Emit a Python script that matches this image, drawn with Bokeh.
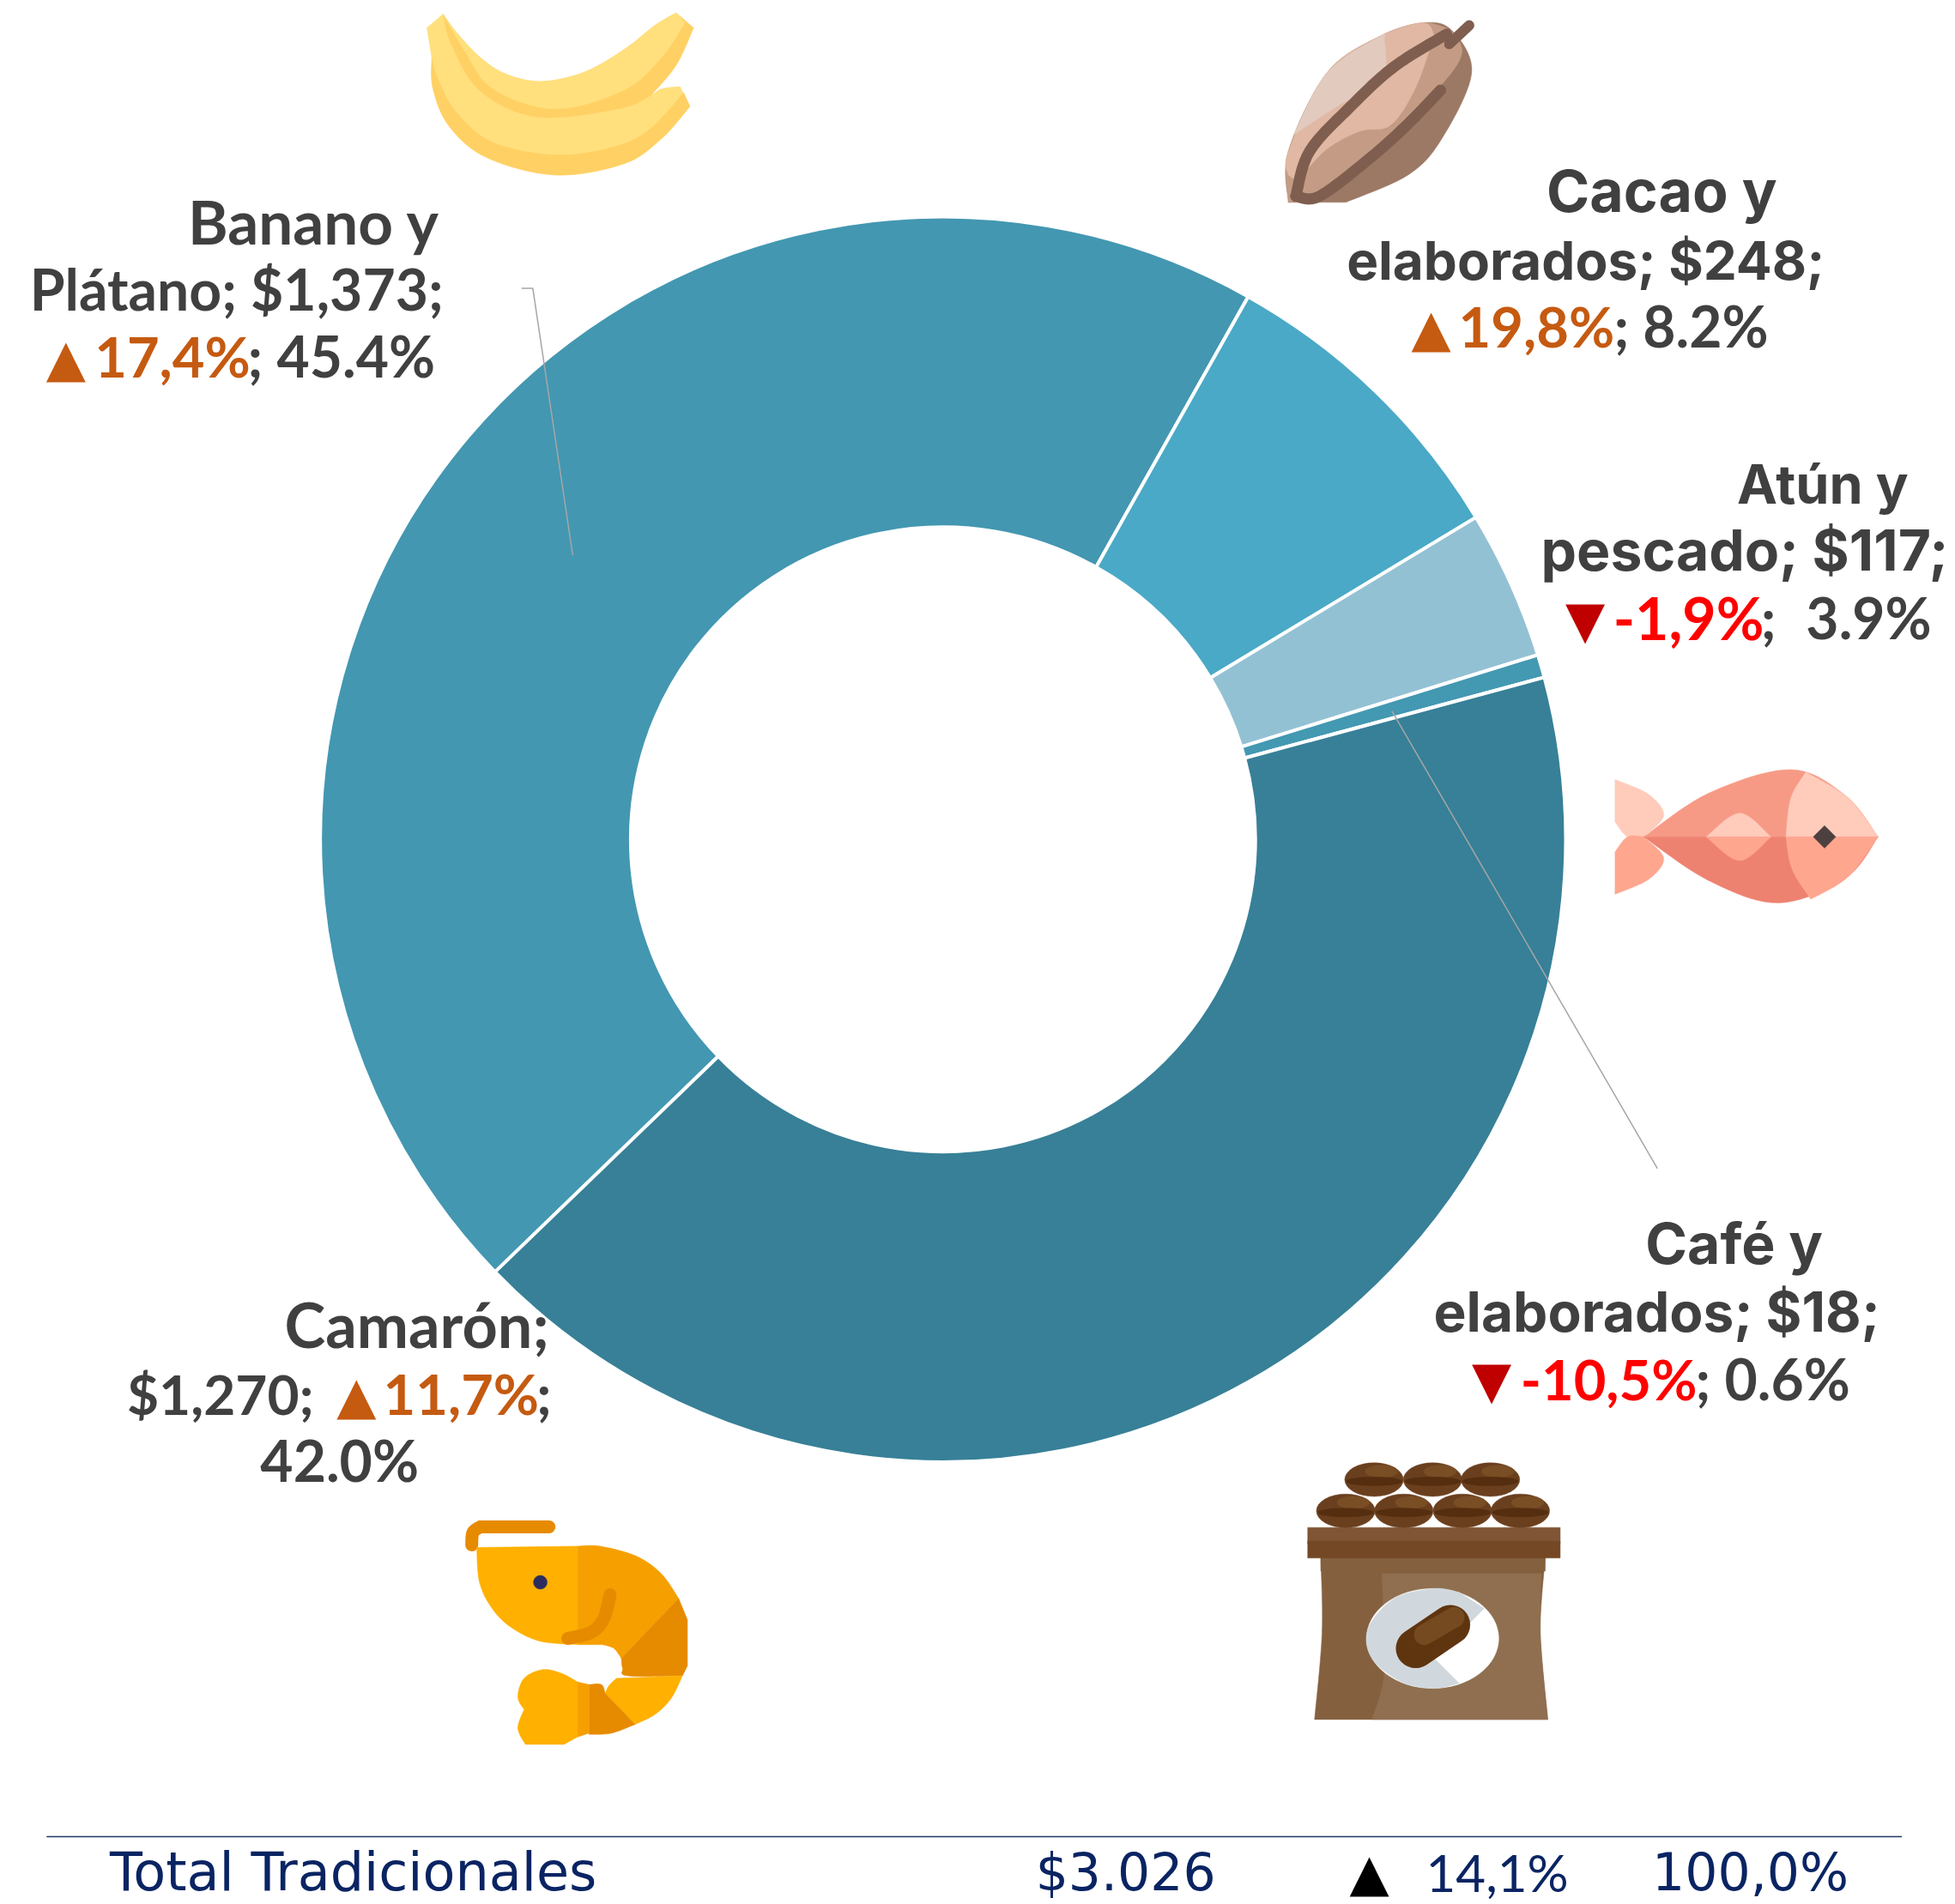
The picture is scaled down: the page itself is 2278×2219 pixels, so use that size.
import math
from bokeh.plotting import figure
from bokeh.models import Range1d
from bokeh.core.properties import value
from bokeh.embed import file_html
from bokeh.resources import INLINE

# ---------- data ----------
categories = ["Banano y Plátano", "Cacao y elaborados", "Atún y pescado", "Café y elaborados", "Camarón"]
values = [1373, 248, 117, 18, 1270]
slice_colors = ["#4397B1", "#4AA9C6", "#93C1D4", "#4398B2", "#378097"]
total_label = "Total Tradicionales"
total_value = "$3.026"
total_yoy = "14,1%"
total_share = "100,0%"

# ---------- layout helpers (reference picture shrunk to 1568 wide) ----------
S = 2278 / 1568
H = 2219 / S
def Y(v):
    return H - v

p = figure(width=2278, height=2219, output_backend="svg", toolbar_location=None,
           x_range=Range1d(0, 1568), y_range=Range1d(0, H),
           x_axis_type=None, y_axis_type=None, min_border=0, outline_line_color=None,
           background_fill_color="white", border_fill_color="white")
p.grid.visible = False

# ---------- donut ----------
CX, CY, R_OUT, R_IN, START_CW = 756, 673, 499.5, 250.5, 226.0
tot = sum(values)
cw = START_CW
starts, ends = [], []
for v in values:
    sweep = v / tot * 360
    starts.append(math.radians(90 - (cw + sweep)))
    ends.append(math.radians(90 - cw))
    cw += sweep
p.annular_wedge(x=[CX] * 5, y=[Y(CY)] * 5, inner_radius=R_IN, outer_radius=R_OUT,
                start_angle=starts, end_angle=ends, fill_color=slice_colors,
                line_color="white", line_width=4)

# leader lines
LEAD = "#A6A6A6"
p.line([418, 427, 459], [Y(231), Y(231), Y(445)], line_color=LEAD, line_width=1.5)
p.line([1116, 1329], [Y(570), Y(937)], line_color=LEAD, line_width=1.5)

# ---------- icons ----------
def seg(pts, n=10):
    out = []
    m = len(pts)
    for i in range(m - 1):
        p0 = pts[max(i - 1, 0)]; p1 = pts[i]; p2 = pts[i + 1]; p3 = pts[min(i + 2, m - 1)]
        for k in range(n):
            t = k / n
            out.append(tuple(0.5 * (2 * p1[d] + (p2[d] - p0[d]) * t
                                    + (2 * p0[d] - 5 * p1[d] + 4 * p2[d] - p3[d]) * t * t
                                    + (3 * p1[d] - p0[d] - 3 * p2[d] + p3[d]) * t ** 3) for d in (0, 1)))
    out.append(pts[-1])
    return out

def shape(color, *segs):
    pts = []
    for s in segs:
        pts += seg(s) if len(s) > 2 else list(s)
    p.patch([a for a, _ in pts], [Y(b) for _, b in pts], fill_color=color, line_color=color, line_width=0.5)

def stroke(color, width, pts, smooth=True):
    pts = seg(pts) if smooth and len(pts) > 2 else pts
    p.line([a for a, _ in pts], [Y(b) for _, b in pts], line_color=color, line_width=width, line_cap="round", line_join="round")

def oval(color, x, y, w, h, angle=0.0):
    p.ellipse(x=[x], y=[Y(y)], width=w, height=h, angle=math.radians(angle), fill_color=color, line_color=color, line_width=0.5)

# banana
BL, BD = "#FFE07D", "#FFD064"
INNER = [(542, 10), (525, 20), (505, 36), (480, 52), (458, 61), (431, 65), (405, 59), (385, 46), (366, 26), (355, 11)]
shape(BL, [(342, 22), (346, 46)],
      [(346, 46), (347, 71), (360, 101), (390, 126), (445, 140), (500, 131), (530, 111), (553, 85)],
      [(553, 85), (545, 69)],
      [(545, 69), (530, 71), (522, 76), (500, 86), (445, 94), (410, 88), (380, 68), (361, 34), (355, 11)],
      [(355, 11), (342, 22)])
shape(BD, [(346, 46), (347, 71), (360, 101), (390, 126), (445, 140), (500, 131), (530, 111), (553, 85)],
      [(553, 85), (548, 74)],
      [(548, 74), (520, 104), (490, 118), (445, 124), (395, 114), (365, 89), (350, 61), (346, 46)])
shape(BD, [(355, 11), (361, 34), (380, 68), (410, 88), (445, 94), (500, 86), (522, 76)],
      [(522, 76), (542, 52), (556, 22)], [(556, 22), (542, 10)], INNER)
shape(BL, INNER[::-1], [(542, 10), (549, 18)],
      [(549, 18), (530, 46), (500, 72), (445, 87), (395, 71), (372, 40), (355, 11)])

# cacao
shape("#9C7965", [(1033, 162), (1033, 121), (1064, 58), (1106, 29), (1141, 18), (1164, 24), (1180, 58), (1156, 111), (1129, 140), (1079, 162)], [(1079, 162), (1033, 162)])
shape("#C49C85", [(1033, 162), (1033, 121), (1064, 58), (1106, 29), (1141, 18), (1164, 24)], [(1164, 24), (1172, 43), (1152, 72), (1098, 126), (1056, 159)], [(1056, 159), (1033, 162)])
shape("#E0B8A4", [(1033, 140), (1033, 121), (1064, 58), (1106, 29), (1141, 18), (1150, 28)], [(1150, 28), (1135, 70), (1115, 100), (1090, 105), (1063, 120), (1040, 145)])
shape("#E2CABE", [(1037, 108), (1064, 58), (1106, 29), (1110, 30)], [(1110, 30), (1108, 63), (1072, 85), (1037, 108)])
stroke("#7F5E4F", 13, [(1039, 157), (1050, 121), (1083, 85), (1118, 53), (1160, 27)])
stroke("#7F5E4F", 13, [(1039, 157), (1058, 157), (1099, 126), (1129, 99), (1155, 72)])
stroke("#7F5E4F", 12, [(1162, 35), (1178, 20)], smooth=False)

# fish
shape("#FFCBBB", [(1295, 625), (1322, 637), (1334, 654), (1318, 671)], [(1318, 671), (1305, 671), (1295, 659)], [(1295, 659), (1295, 625)])
shape("#FFA68F", [(1295, 717), (1322, 705), (1334, 688), (1318, 671)], [(1318, 671), (1305, 671), (1295, 683)], [(1295, 683), (1295, 717)])
shape("#F79A85", [(1318, 671), (1370, 636), (1436, 617), (1480, 638), (1506, 671)], [(1506, 671), (1318, 671)])
shape("#EE8270", [(1318, 671), (1370, 706), (1426, 724), (1480, 704), (1506, 671)], [(1506, 671), (1318, 671)])
shape("#FFCBBB", [(1448, 619), (1436, 640), (1432, 671)], [(1432, 671), (1506, 671)], [(1506, 671), (1482, 640), (1448, 619)])
shape("#FFA68F", [(1432, 671), (1437, 697), (1452, 721)], [(1452, 721), (1482, 703), (1506, 671)], [(1506, 671), (1432, 671)])
shape("#FFCBBB", [(1368, 671), (1395, 652), (1420, 671)], [(1420, 671), (1368, 671)])
shape("#FFA68F", [(1368, 671), (1395, 690), (1420, 671)], [(1420, 671), (1368, 671)])
shape("#4D4040", [(1463, 662), (1472, 671)], [(1472, 671), (1463, 680)], [(1463, 680), (1454, 671)])

# shrimp
SA, SB, SC = "#FFB000", "#F59F00", "#E68A00"
stroke(SC, 15, [(440, 1224.5), (385, 1224.5)], smooth=False)
stroke(SC, 15, [(385, 1224.5), (379, 1229), (378, 1239)])
shape(SA, [(382, 1241), (384, 1268), (393, 1288), (408, 1304), (432, 1316), (463, 1319)], [(463, 1319), (463, 1240)], [(463, 1240), (382, 1241)])
shape(SB, [(463, 1240), (481, 1240), (510, 1248), (530, 1262), (544, 1282)], [(544, 1282), (498, 1330)], [(498, 1330), (492, 1322), (483, 1319)], [(483, 1319), (463, 1319)])
shape(SC, [(544, 1282), (551, 1299)], [(551, 1299), (551, 1336)], [(551, 1336), (547, 1344)], [(547, 1344), (503, 1344), (499, 1338), (498, 1330)], [(498, 1330), (544, 1282)])
shape(SA, [(547, 1344), (538, 1362), (525, 1375), (509, 1383)], [(509, 1383), (485, 1358)], [(485, 1358), (488, 1352), (494, 1346)], [(494, 1346), (547, 1344)])
shape(SC, [(485, 1358), (509, 1383)], [(509, 1383), (490, 1390), (472, 1391)], [(472, 1391), (472, 1351)], [(472, 1351), (482, 1351), (485, 1358)])
shape(SA, [(463, 1349), (450, 1342), (435, 1339), (420, 1346), (415, 1361), (420, 1371)], [(420, 1371), (415, 1386), (421, 1399)], [(421, 1399), (452, 1399)], [(452, 1399), (463, 1393)], [(463, 1393), (463, 1349)])
shape(SB, [(463, 1349), (472, 1351)], [(472, 1351), (472, 1390)], [(472, 1390), (463, 1393)], [(463, 1393), (463, 1349)])
stroke(SC, 15, [(489, 1279), (484, 1298), (474, 1309), (455, 1314)])
oval("#2B2D5E", 433, 1269, 11, 11)

# coffee sack
shape("#84603F", [(1059, 1249), (1239, 1249)], [(1239, 1249), (1235, 1310), (1241, 1379)], [(1241, 1379), (1054, 1379)], [(1054, 1379), (1060, 1310), (1059, 1249)])
shape("#8F6F50", [(1110, 1262), (1236, 1262)], [(1236, 1262), (1235, 1310), (1241, 1379)], [(1241, 1379), (1100, 1379)], [(1100, 1379), (1110, 1340), (1108, 1262)])
shape("#84603F", [(1059, 1249), (1239, 1249)], [(1239, 1249), (1239, 1260)], [(1239, 1260), (1059, 1260)])
shape("#7F5535", [(1048.5, 1225), (1251, 1225)], [(1251, 1225), (1251, 1238)], [(1251, 1238), (1048.5, 1238)])
shape("#744825", [(1048.5, 1236), (1251, 1236)], [(1251, 1236), (1251, 1249.5)], [(1251, 1249.5), (1048.5, 1249.5)])
oval("#FFFFFF", 1148.7, 1314, 106, 80)
shape("#D0D8DD", [(1170, 1277), (1150, 1274), (1118, 1282), (1097, 1306), (1100, 1330), (1124, 1349), (1150, 1354), (1170, 1350)], [(1170, 1350), (1150, 1330)], [(1150, 1330), (1190, 1290)], [(1190, 1290), (1170, 1277)])
stroke("#5F3510", 46, [(1135, 1322), (1163, 1303)], smooth=False)
stroke("#754A20", 24, [(1142, 1311), (1166, 1297)], smooth=False)
for bx in (1101.7, 1148.7, 1195):
    oval("#6A3F1E", bx, 1186.6, 47, 27)
    oval("#7A4E25", bx + 6, 1180, 26, 10)
    oval("#552E10", bx, 1188, 45, 7)
for bx in (1079, 1125.6, 1172.6, 1219):
    oval("#6A3F1E", bx, 1211.7, 47, 27)
    oval("#7A4E25", bx + 6, 1205, 26, 10)
    oval("#552E10", bx, 1213, 45, 7)

# ---------- labels ----------
GREY, ORANGE, RED, DARKRED, NAVY = "#404040", "#C55A11", "#FF0000", "#C00000", "#0A2463"
DY = 0.27   # bokeh svg text sits lower than the requested baseline by this share of the font size
def T(txt, x0, x1, base, color=GREY, font="Lato", size=66, style="bold"):
    p.text(x=[(x0 + x1) / 2], y=[Y(base - DY * size)], text=[txt], text_align="center", text_baseline="alphabetic",
           text_color=color, text_font=value(font), text_font_size=f"{size}px", text_font_style=style)

def pct(i):
    return f"{values[i] / tot * 100:.1f}%"

UP, DOWN = "▲", "▼"
TRI = dict(font="DejaVu Sans", size=60, style="normal")
def L(size=66):
    return dict(font="Lato", size=size)
def I(size=64):
    return dict(font="Inter", size=size)

T("Banano y", 151, 352, 196, **L(71))
T(f"Plátano; ${values[0]:,};", 23, 356, 249, **L(66))
T(UP, 37, 68, 303, ORANGE, **TRI)
T("17,4%", 78, 198, 303, ORANGE, **L(65))
T(f"; {pct(0)}", 200, 347, 303, **L(66))

T("Cacao y", 1240, 1425, 171, **I(68))
T(f"elaborados; ${values[1]};", 1082, 1461, 225, **I(62))
T(UP, 1132, 1163, 279, ORANGE, **TRI)
T("19,8%", 1171, 1293, 279, ORANGE, **L(65))
T(f"; {pct(1)}", 1295, 1417, 279, **L(66))

T("Atún y", 1394, 1529, 405, **I(63))
T(f"pescado; ${values[2]};", 1237, 1561, 459, **I(66))
T(DOWN, 1256, 1286, 513, DARKRED, **TRI)
T("-1,9%", 1296, 1412, 513, RED, **L(68))
T(";", 1412, 1424, 513, **L(66))
T(pct(2), 1449, 1548, 513, **L(66))

T("Café y", 1320, 1461, 1015, **I(66))
T(f"elaborados; ${values[3]};", 1151, 1506, 1069, **I(64))
T(DOWN, 1180, 1212, 1123, DARKRED, **TRI)
T("-10,5%", 1220, 1360, 1123, RED, **L(65))
T(f"; {pct(3)}", 1360, 1483, 1123, **L(66))

T("Camarón;", 227, 441, 1081, **L(72))
T(f"${values[4]:,};", 103, 250, 1135, **L(64))
T(UP, 270, 301, 1135, ORANGE, **TRI)
T("11,7%", 309, 430, 1135, ORANGE, **L(65))
T(";", 430, 442, 1135, **L(66))
T(pct(4), 210, 334, 1189, **L(66))

# ---------- footer ----------
p.line([37, 1525], [Y(1473), Y(1473)], line_color="#1F3864", line_width=1.6)
def FT(size, font="DejaVu Sans"):
    return dict(color=NAVY, font=font, size=size, style="normal")
FB = 1518
T(total_label, 79, 487, FB, **FT(62))
T(total_value, 828, 977, FB, **FT(60))
T(UP, 1083, 1113, FB, "#000000", **TRI)
T(total_yoy, 1147, 1254, FB, **FT(60, "Lato"))
T(total_share, 1326, 1481, FB, **FT(60))

open("out.html", "w").write(file_html(p, INLINE))
